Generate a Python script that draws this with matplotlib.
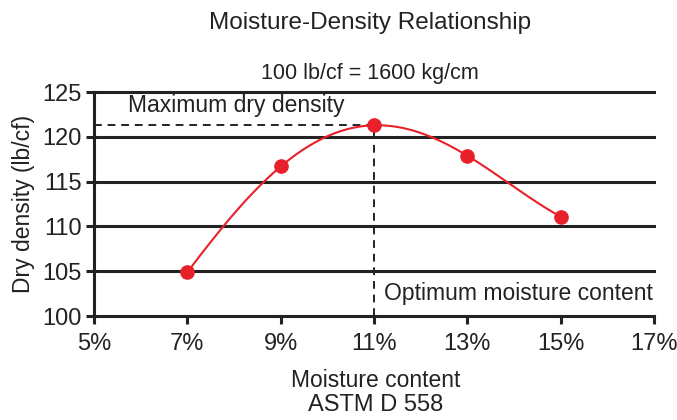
import matplotlib.pyplot as plt
import numpy as np

plt.rcParams['font.family'] = ['Liberation Sans', 'DejaVu Sans']

moisture = [7, 9, 11, 13, 15]
density = [104.9, 116.7, 121.3, 117.9, 111.1]
x_ticks = [5, 7, 9, 11, 13, 15, 17]
y_ticks = [100, 105, 110, 115, 120, 125]
opt_moisture = 11
max_density = 121.3

red = '#e8202a'
ink = '#222222'

fig = plt.figure(figsize=(6.77, 4.2), dpi=100)
ax = fig.add_axes([0.139, 0.2476, 0.827, 0.533])

# smooth curve through the measured points
coef = np.polyfit(moisture, density, 4)
xs = np.linspace(moisture[0], moisture[-1], 200)
ax.plot(xs, np.polyval(coef, xs), color=red, lw=1.5, zorder=3)
ax.plot(moisture, density, 'o', color=red, ms=9.5, zorder=4)

for y in y_ticks[1:]:
    ax.axhline(y, color=ink, lw=2.2, zorder=1, clip_on=False)

ax.plot([x_ticks[0], opt_moisture], [max_density, max_density], '--', color=ink, lw=1.4, dashes=(4, 3), zorder=2)
ax.plot([opt_moisture, opt_moisture], [y_ticks[0], max_density], '--', color=ink, lw=1.4, dashes=(4, 3), zorder=2)

ax.text(5.73, 123.5, 'Maximum dry density', fontsize=16.5, va='center', ha='left', color=ink)
ax.text(11.22, 102.5, 'Optimum moisture content', fontsize=16.5, va='center', ha='left', color=ink)

ax.set_xlim(x_ticks[0], x_ticks[-1])
ax.set_ylim(y_ticks[0], y_ticks[-1])
ax.set_xticks(x_ticks)
ax.set_xticklabels([f'{v}%' for v in x_ticks])
ax.set_yticks(y_ticks)
ax.tick_params(axis='both', labelsize=17, width=2.2, length=6, color=ink, labelcolor=ink)
ax.tick_params(axis='x', pad=6)
ax.tick_params(axis='y', pad=3)

for side in ['top', 'right']:
    ax.spines[side].set_visible(False)
for side in ['left', 'bottom']:
    ax.spines[side].set_linewidth(2.2)
    ax.spines[side].set_color(ink)

ax.set_ylabel('Dry density (lb/cf)', fontsize=16.5, color=ink, labelpad=5)

fig.text(0.547, 0.945, 'Moisture-Density Relationship', fontsize=17.5, ha='center', va='center', color=ink)
fig.text(0.547, 0.826, '100 lb/cf = 1600 kg/cm', fontsize=15.5, ha='center', va='center', color=ink)
fig.text(0.555, 0.095, 'Moisture content', fontsize=16.5, ha='center', va='center', color=ink)
fig.text(0.555, 0.035, 'ASTM D 558', fontsize=17, ha='center', va='center', color=ink)

fig.savefig('out.png', dpi=100)
